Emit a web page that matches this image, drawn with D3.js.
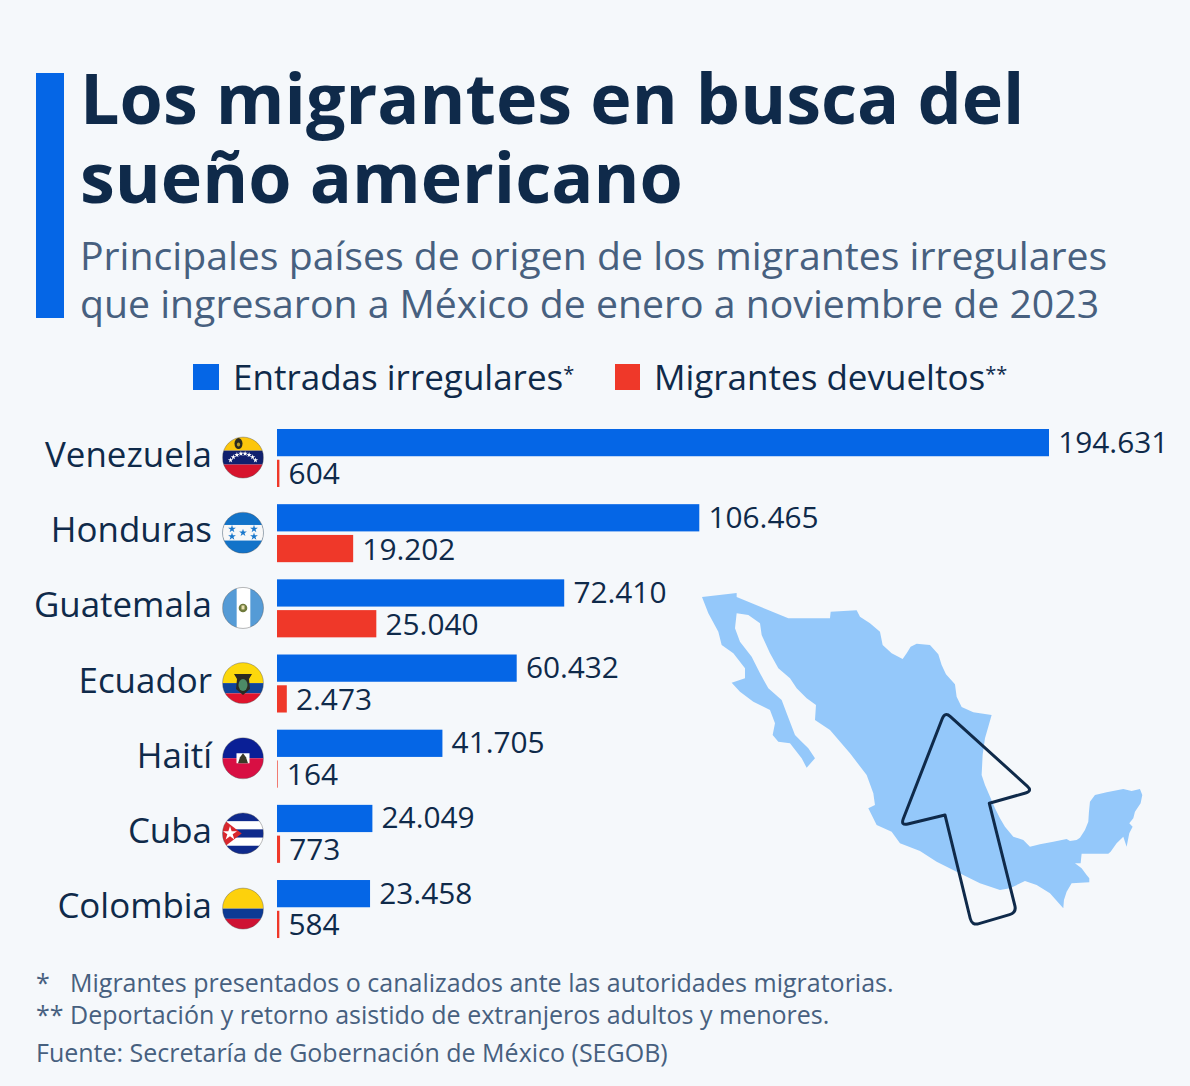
<!DOCTYPE html>
<html><head><meta charset="utf-8">
<script src="https://cdn.jsdelivr.net/npm/d3@7"></script>
<style>html,body{margin:0;padding:0;background:#f5f8fb}svg{display:block}text{font-family:"Open Sans",sans-serif}</style>
</head><body><div id="c"></div>
<script>
const countries=["Venezuela","Honduras","Guatemala","Ecuador","Haití","Cuba","Colombia"];
const entradas=[194631,106465,72410,60432,41705,24049,23458];
const devueltos=[604,19202,25040,2473,164,773,584];
const seriesNames=["Entradas irregulares","Migrantes devueltos"];
const seriesMarks=["*","**"];
const titleLines=["Los migrantes en busca del","sueño americano"];
const subtitleLines=["Principales países de origen de los migrantes irregulares","que ingresaron a México de enero a noviembre de 2023"];
const notes=["Migrantes presentados o canalizados ante las autoridades migratorias.","Deportación y retorno asistido de extranjeros adultos y menores."];
const source="Fuente: Secretaría de Gobernación de México (SEGOB)";
const INK="#0f2a4a",SUB="#47607f",BLUE="#0566e6",RED="#ef3829",MAP="#94c8fa";
const W=1190,H=1086;
const svg=d3.select("#c").append("svg").attr("width",W).attr("height",H);
svg.append("rect").attr("width",W).attr("height",H).attr("fill","#f5f8fb");
svg.append("rect").attr("x",36).attr("y",73).attr("width",28).attr("height",245).attr("fill",BLUE);
const T=(s,x,y,size,fill,weight,anchor)=>svg.append("text").attr("x",x).attr("y",y).attr("font-size",size).attr("fill",fill).attr("font-weight",weight||400).attr("text-anchor",anchor||"start").text(s);
titleLines.forEach((s,i)=>T(s,80,124+79*i,70,INK,700));
subtitleLines.forEach((s,i)=>T(s,80,269.5+48.5*i,39.2,SUB));
// legend
const lx=[193,615];
seriesNames.forEach((s,i)=>{
 svg.append("rect").attr("x",lx[i]).attr("y",364).attr("width",i?25:26).attr("height",26).attr("fill",i?RED:BLUE);
 const t=T(s,lx[i]+40-i,390,35,INK);
 t.append("tspan").attr("font-size",20).attr("dy",-9).text(seriesMarks[i]);
});
// map
const mapPts=[[36,36],[140,24],[140,36],[295,100],[420,100],[422,80],[500,76],[510,95],[540,115],[570,140],[578,180],[605,205],[638,222],[650,205],[662,185],[680,176],[720,180],[745,208],[755,240],[768,268],[795,298],[800,335],[815,366],[850,382],[905,390],[895,425],[885,460],[878,510],[875,570],[885,600],[897,628],[915,670],[930,700],[945,725],[970,755],[1000,765],[1020,785],[1050,778],[1090,770],[1130,762],[1140,768],[1160,765],[1170,758],[1185,735],[1195,710],[1197,680],[1200,650],[1215,630],[1250,622],[1300,612],[1325,618],[1350,612],[1357,630],[1352,655],[1335,680],[1330,700],[1318,715],[1328,725],[1318,745],[1310,785],[1300,755],[1280,775],[1262,800],[1255,806],[1175,806],[1172,835],[1155,835],[1175,850],[1190,870],[1198,880],[1198,892],[1145,895],[1130,920],[1122,945],[1120,970],[1080,925],[1040,900],[1005,888],[960,910],[930,915],[870,895],[800,860],[740,830],[690,798],[630,775],[605,740],[560,720],[535,670],[555,660],[550,625],[530,570],[480,505],[420,435],[375,405],[378,360],[350,340],[320,310],[300,280],[265,250],[240,205],[215,150],[210,115],[175,90],[140,85],[135,130],[150,170],[185,215],[210,265],[235,310],[275,345],[290,385],[315,450],[335,470],[355,490],[375,520],[350,548],[335,520],[300,475],[265,470],[248,450],[255,415],[240,375],[190,350],[150,320],[125,293],[165,280],[165,250],[130,205],[95,180],[85,140],[55,85]];
const arrowPts=[[765,380],[1028,618],[898,655],[980,983],[846,1022],[765,690],[632,722]];
const mapG=svg.append("g").attr("transform","translate(690,585) scale(0.3333)");
mapG.append("path").attr("d",d3.line()(mapPts)+"Z").attr("fill",MAP);
function rounded(p,r){const n=p.length;let d="";p.forEach((c,i)=>{const a=p[(i-1+n)%n],b=p[(i+1)%n];const sharp=(i===2||i===5);const rr=sharp?0.01:r;const u=(q)=>{const dx=q[0]-c[0],dy=q[1]-c[1],l=Math.hypot(dx,dy),k=Math.min(rr,l/2)/l;return [c[0]+dx*k,c[1]+dy*k]};const s=u(a),e=u(b);d+=(i?"L":"M")+s+"Q"+c+" "+e});return d+"Z"}
mapG.append("path").attr("d",rounded(arrowPts,22)).attr("fill","none").attr("stroke",INK).attr("stroke-width",9).attr("stroke-linejoin","round");
// scales
const x=d3.scaleLinear().domain([0,194631]).range([277,1049]);
const y=d3.scaleBand().domain(countries).range([425.5,951.7]);
const inner=d3.scaleBand().domain([0,1]).range([3.5,61.5]).paddingInner(0.115);
const fmt=v=>d3.format(",")(v).replace(/,/g,".");
countries.forEach((c,i)=>{
 const g=svg.append("g");
 [entradas[i],devueltos[i]].forEach((v,k)=>{
  g.append("rect").attr("x",x(0)).attr("y",y(c)+inner(k)).attr("width",x(v)-x(0)).attr("height",inner.bandwidth()).attr("fill",k?RED:BLUE);
  g.append("text").attr("x",x(v)+9.2).attr("y",y(c)+inner(k)+inner.bandwidth()/2+10+k).attr("font-size",29.8).attr("fill",INK).text(fmt(v));
 });
 const cy=y(c)+y.bandwidth()/2-6;
 g.append("text").attr("x",212).attr("y",cy+10).attr("font-size",34.9).attr("fill",INK).attr("text-anchor","end").text(c);
 drawFlag(svg,c,i,243,cy+.5);
});
function drawFlag(root,name,i,cx,cy){
 const R=20.5,id="f"+i;
 root.append("clipPath").attr("id",id).append("circle").attr("cx",cx).attr("cy",cy).attr("r",R);
 const g=root.append("g").attr("clip-path",`url(#${id})`);
 const band=(t,h,f)=>g.append("rect").attr("x",cx-R).attr("y",cy-R+t*2*R).attr("width",2*R).attr("height",h*2*R).attr("fill",f);
 const star=(sx,sy,r,f)=>g.append("path").attr("transform",`translate(${sx},${sy})`).attr("d",d3.symbol(d3.symbolStar,r*r*3)()).attr("fill",f);
 if(name==="Venezuela"){band(0,.33,"#fcc60c");band(.33,.34,"#10206e");band(.67,.33,"#d7142d");
  for(let a=-56;a<=56;a+=16){const t=a*Math.PI/180;star(cx+15*Math.sin(t),cy+11-15*Math.cos(t),1.7,"#fff")}
  g.append("ellipse").attr("cx",cx-4.5).attr("cy",cy-14).attr("rx",4).attr("ry",5.5).attr("fill","#2a2a20");
  g.append("ellipse").attr("cx",cx-4.5).attr("cy",cy-13).attr("rx",1.6).attr("ry",2).attr("fill","#b99a2a");}
 if(name==="Honduras"){band(0,1,"#1273c9");band(.31,.38,"#f8f8f8");
  [[-11,-3.8],[11,-3.8],[0,0],[-11,3.8],[11,3.8]].forEach(p=>star(cx+p[0],cy+p[1],2.5,"#1a78cc"));}
 if(name==="Guatemala"){band(0,1,"#fff");g.append("rect").attr("x",cx-R).attr("y",cy-R).attr("width",R*2/3+.5).attr("height",2*R).attr("fill","#559bd6");
  g.append("rect").attr("x",cx+R/3+.5).attr("y",cy-R).attr("width",R*2/3).attr("height",2*R).attr("fill","#559bd6");
  g.append("circle").attr("cx",cx).attr("cy",cy).attr("r",4.3).attr("fill","#6f7a3c");g.append("rect").attr("x",cx-1.5).attr("y",cy-2.5).attr("width",3).attr("height",4).attr("fill","#e8dfae");}
 if(name==="Ecuador"){band(0,.5,"#fcd80c");band(.5,.25,"#10449a");band(.75,.25,"#e0142d");
  g.append("path").attr("d",`M${cx-9},${cy-9}L${cx+9},${cy-9}L${cx+6},${cy-4}L${cx+7},${cy+6}L${cx},${cy+12}L${cx-7},${cy+6}L${cx-6},${cy-4}Z`).attr("fill","#2b2a22");
  g.append("ellipse").attr("cx",cx).attr("cy",cy+2).attr("rx",4.5).attr("ry",6).attr("fill","#4c8a66");}
 if(name==="Haití"){band(0,.5,"#0a1f96");band(.5,.5,"#d80f43");
  g.append("rect").attr("x",cx-6.5).attr("y",cy-5).attr("width",13).attr("height",10).attr("fill","#fff");
  g.append("path").attr("d",`M${cx-5},${cy+5}L${cx-3},${cy-1}L${cx},${cy-5}L${cx+3},${cy-1}L${cx+5},${cy+5}Z`).attr("fill","#3a3a28");}
 if(name==="Cuba"){band(0,1,"#fff");[0,.4,.8].forEach(t=>band(t,.2,"#0f2a8c"));
  g.append("path").attr("d",`M${cx-R},${cy-R*.72}L${cx-1.3},${cy}L${cx-R},${cy+R*.72}Z`).attr("fill","#d9272e");
  star(cx-R+7.5,cy,4.5,"#fff");}
 if(name==="Colombia"){band(0,.5,"#fdd10c");band(.5,.25,"#0c3a94");band(.75,.25,"#ce1233");}
 root.append("circle").attr("cx",cx).attr("cy",cy).attr("r",R).attr("fill","none").attr("stroke","#4a4a4a").attr("stroke-opacity",.55).attr("stroke-width",.7);
}
// notes
T("*",36,992,25,SUB);T(notes[0],70,992,25.03,SUB);
T("**",36,1024,25,SUB);T(notes[1],70,1024,25.03,SUB);
T(source,36,1062,25,SUB);
</script></body></html>
